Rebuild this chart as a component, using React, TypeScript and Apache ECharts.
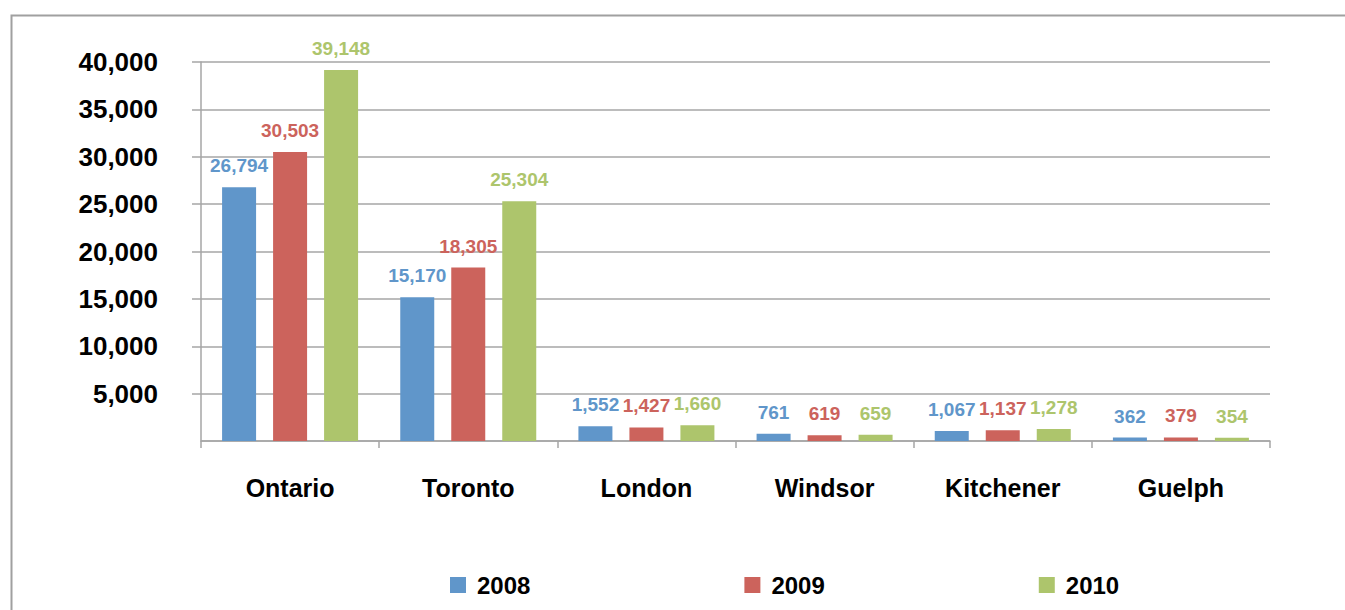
import React, { useEffect, useRef } from "react";
import * as echarts from "echarts";

const categories = ["Ontario", "Toronto", "London", "Windsor", "Kitchener", "Guelph"];
const seriesNames = ["2008", "2009", "2010"];
const values2008 = [26794, 15170, 1552, 761, 1067, 362];
const values2009 = [30503, 18305, 1427, 619, 1137, 379];
const values2010 = [39148, 25304, 1660, 659, 1278, 354];
const colors = ["#6096CA", "#CC635C", "#ADC56C"];

const FONT = "'Liberation Sans', Arial, sans-serif";
const GRID = "#A6A6A6";

export default function App() {
  const ref = useRef<HTMLDivElement>(null);
  useEffect(() => {
    if (!ref.current) return;
    const chart = echarts.init(ref.current, null, { renderer: "svg" });
    const allValues = [values2008, values2009, values2010];
    const fmt = (v: number) => v.toLocaleString("en-US");
    chart.setOption({
      animation: false,
      backgroundColor: "#ffffff",
      graphic: [
        {
          type: "rect",
          left: 9,
          top: 13,
          shape: { width: 1345, height: 700 },
          style: { fill: "none", stroke: "#A0A0A0", lineWidth: 2 },
          silent: true,
        },
      ],
      grid: { left: 201, right: 75, top: 62, bottom: 169, containLabel: false },
      legend: {
        left: 445,
        top: 568,
        itemWidth: 16,
        itemHeight: 16,
        itemGap: 214,
        icon: "rect",
        data: seriesNames,
        textStyle: {
          fontFamily: FONT,
          fontWeight: "bold",
          fontSize: 24,
          color: "#000",
          padding: [0, 0, 0, 6],
        },
      },
      xAxis: {
        type: "category",
        data: categories,
        axisLine: { show: true, lineStyle: { color: GRID, width: 1.5 } },
        axisTick: { show: true, length: 7, alignWithLabel: false, lineStyle: { color: GRID, width: 1.5 } },
        axisLabel: {
          margin: 34,
          fontFamily: FONT,
          fontWeight: "bold",
          fontSize: 25,
          color: "#000",
        },
      },
      yAxis: {
        type: "value",
        min: 0,
        max: 40000,
        interval: 5000,
        axisLine: { show: true, lineStyle: { color: GRID, width: 1.5 } },
        axisTick: { show: true, length: 9, lineStyle: { color: GRID, width: 1.5 } },
        splitLine: { show: true, lineStyle: { color: GRID, width: 1.5 } },
        axisLabel: {
          margin: 43,
          showMinLabel: false,
          fontFamily: FONT,
          fontWeight: "bold",
          fontSize: 26,
          color: "#000",
          padding: [8, 0, 0, 0],
          formatter: (v: number) => (v === 0 ? "" : fmt(v)),
        },
      },
      series: seriesNames.map((name, i) => ({
        name,
        type: "bar",
        data: allValues[i],
        barWidth: 34,
        barGap: "50%",
        itemStyle: { color: colors[i] },
        label: {
          show: true,
          position: "top",
          distance: 12,
          fontFamily: FONT,
          fontWeight: "bold",
          fontSize: 19,
          color: colors[i],
          formatter: (p: any) => fmt(p.value),
        },
      })),
    });
    return () => chart.dispose();
  }, []);
  return (
    <div
      ref={ref}
      style={{ position: "fixed", left: 0, top: 0, width: 1345, height: 610 }}
    />
  );
}
